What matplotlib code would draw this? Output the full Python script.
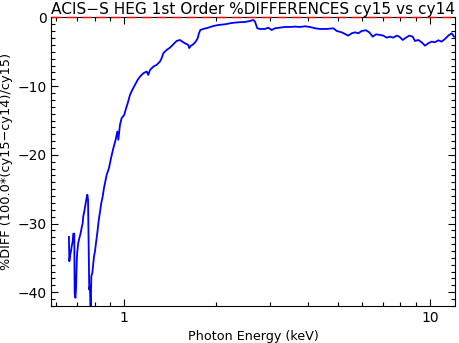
#libraries
import numpy as np
import matplotlib
matplotlib.use('Agg')
import matplotlib.pyplot as plt
from matplotlib.ticker import FixedLocator, FixedFormatter, MultipleLocator, NullFormatter

# photon energy (keV) and percent difference
energy_kev = [
    0.659, 0.661, 0.664, 0.669, 0.673, 0.678, 0.681, 0.686, 0.688, 0.692,
    0.695, 0.699, 0.702, 0.707, 0.713, 0.720, 0.725, 0.731, 0.734, 0.740,
    0.746, 0.751, 0.757, 0.761, 0.765, 0.768, 0.772, 0.776, 0.780, 0.786,
    0.792, 0.796, 0.802, 0.808, 0.816, 0.824, 0.833, 0.841, 0.850, 0.858,
    0.869, 0.876, 0.891, 0.905, 0.921, 0.937, 0.949, 0.956, 0.968, 0.980,
    1.000, 1.010, 1.026, 1.044, 1.062, 1.084, 1.106, 1.126, 1.154, 1.184,
    1.198, 1.214, 1.245, 1.276, 1.308, 1.325, 1.342, 1.376, 1.411, 1.447,
    1.483, 1.521, 1.548, 1.579, 1.620, 1.630, 1.653, 1.682, 1.712, 1.738,
    1.755, 1.773, 1.813, 1.883, 1.955, 2.031, 2.135, 2.245, 2.361, 2.482,
    2.577, 2.642, 2.676, 2.724, 2.779, 2.886, 2.959, 3.035, 3.112, 3.231,
    3.355, 3.483, 3.617, 3.756, 3.900, 4.050, 4.205, 4.367, 4.593, 4.828,
    4.953, 5.144, 5.272, 5.406, 5.546, 5.685, 5.829, 5.979, 6.176, 6.331,
    6.496, 6.660, 6.864, 7.036, 7.219, 7.403, 7.587, 7.785, 7.939, 8.144,
    8.349, 8.560, 8.779, 8.932, 9.157, 9.395, 9.630, 9.872, 10.13, 10.38,
    10.65, 10.92, 11.20, 11.48, 11.78, 11.98, 12.23,
]
pct_diff = [
    -31.95, -35.49, -34.77, -34.04, -33.31, -32.58, -31.47, -31.47, -40.09, -40.82,
    -39.61, -35.49, -34.04, -32.82, -32.10, -31.37, -30.65, -29.92, -28.95, -28.22,
    -27.25, -26.53, -25.80, -26.53, -34.04, -39.61, -39.12, -43.00, -37.67, -37.19,
    -35.73, -34.77, -34.04, -32.82, -31.37, -29.68, -28.22, -27.01, -26.04, -24.83,
    -23.62, -22.89, -21.92, -20.47, -19.01, -17.80, -16.60, -17.80, -15.63, -14.66,
    -14.17, -13.44, -12.48, -11.26, -10.54, -9.81, -9.08, -8.60, -8.12, -7.87,
    -8.36, -7.63, -7.15, -6.90, -6.42, -5.93, -5.20, -4.72, -4.39, -3.90,
    -3.42, -3.27, -3.51, -3.76, -4.00, -4.45, -4.10, -3.90, -3.51, -3.03,
    -2.30, -1.82, -1.67, -1.48, -1.24, -1.09, -0.99, -0.80, -0.70, -0.65,
    -0.51, -0.36, -0.60, -1.57, -1.67, -1.67, -1.48, -1.82, -1.57, -1.48,
    -1.38, -1.38, -1.33, -1.38, -1.28, -1.38, -1.57, -1.67, -1.67, -1.57,
    -1.96, -2.16, -2.40, -2.64, -2.30, -2.16, -2.30, -1.96, -1.86, -2.16,
    -2.79, -2.45, -2.54, -2.64, -2.93, -2.79, -2.93, -2.64, -2.79, -3.27,
    -2.93, -2.64, -2.79, -3.42, -3.27, -3.61, -4.10, -3.76, -3.51, -3.61,
    -3.32, -3.51, -3.13, -2.64, -2.30, -2.79, -2.79,
]

x_major = [1, 10]
x_major_labels = ['1', '10']
x_minor = [0.6, 0.7, 0.8, 0.9, 2, 3, 4, 5, 6, 7, 8, 9]

title = 'ACIS\u2212S HEG 1st Order %DIFFERENCES cy15 vs cy14'
xlabel = 'Photon Energy (keV)'
ylabel = '%DIFF (100.0*(cy15\u2212cy14)/cy15)'

plt.rcParams['font.family'] = ['DejaVu Sans']

fig = plt.figure(figsize=(4.6, 3.43), dpi=100)
ax = fig.add_axes([0.1115, 0.108, 0.8775, 0.841])

ax.plot(energy_kev, pct_diff, color='blue', lw=1.3)
ax.axhline(0, color='red', lw=1.0, linestyle=(0, (7.2, 3.6)), zorder=3, clip_on=False)

ax.set_xscale('log')
ax.set_xlim(0.577, 12.07)
ax.set_ylim(-42, 0)

ax.xaxis.set_major_locator(FixedLocator(x_major))
ax.xaxis.set_major_formatter(FixedFormatter(x_major_labels))
ax.xaxis.set_minor_locator(FixedLocator(x_minor))
ax.xaxis.set_minor_formatter(NullFormatter())
ax.yaxis.set_major_locator(MultipleLocator(10))
ax.yaxis.set_minor_locator(MultipleLocator(1))

ax.tick_params(which='both', direction='in', top=True, right=True, width=0.8, labelsize=10)
ax.tick_params(which='major', length=5)
ax.tick_params(which='minor', length=2.7)
for s in ax.spines.values():
    s.set_linewidth(0.8)

ax.set_title(title, fontsize=11.1, pad=2.5)
ax.set_xlabel(xlabel, fontsize=9.2, labelpad=4)
ax.set_ylabel(ylabel, fontsize=9.3, labelpad=3)

fig.savefig('out.png', dpi=100)
